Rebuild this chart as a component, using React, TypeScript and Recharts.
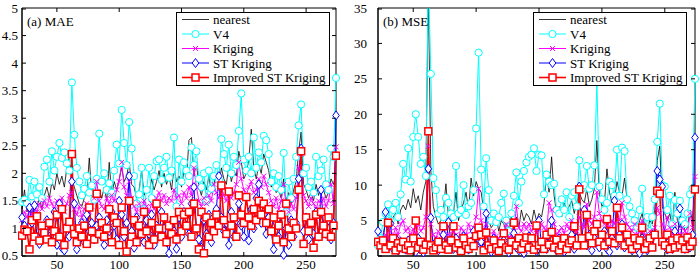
import React from 'react';
import { LineChart, Line, XAxis, YAxis, Legend, ReferenceArea } from 'recharts';

// sample index: 22, 24, ... 274
const X_START = 22;
const X_STEP = 2;

// ---- (a) MAE ----
const maeNearest = [
  1.35, 1.70, 1.30, 1.45, 1.25, 1.50, 1.40, 1.55, 1.35, 1.60,
  1.75, 1.55, 1.85, 1.70, 2.00, 1.80, 1.95, 1.75, 2.10, 2.30,
  1.90, 1.75, 1.60, 1.45, 1.40, 1.55, 1.65, 2.28, 1.60, 1.50,
  1.45, 1.70, 1.55, 1.75, 1.50, 2.20, 1.60, 1.85, 1.70, 1.90,
  2.10, 1.85, 1.95, 2.20, 1.80, 1.75, 1.55, 1.70, 2.05, 1.60,
  1.75, 1.65, 1.90, 1.70, 1.85, 2.05, 1.75, 2.00, 1.80, 1.95,
  1.70, 2.10, 1.85, 1.95, 1.75, 2.05, 1.90, 2.60, 2.65, 1.95,
  2.20, 1.75, 1.60, 1.85, 1.70, 1.95, 1.65, 1.80, 2.00, 1.75,
  2.10, 1.90, 1.80, 2.15, 1.85, 2.05, 1.95, 2.40, 2.20, 1.90,
  2.00, 2.25, 2.80, 2.10, 1.90, 2.15, 2.00, 2.35, 2.20, 2.05,
  1.75, 1.85, 1.65, 1.70, 1.55, 1.90, 1.50, 1.65, 1.45, 1.70,
  1.85, 2.40, 2.75, 1.80, 1.70, 1.55, 1.65, 1.50, 1.80, 1.60,
  1.75, 1.70, 1.55, 1.65, 1.90, 1.80, 2.00,
];
const maeV4 = [
  1.48, 1.52, 1.46, 1.88, 1.58, 1.85, 1.62, 1.75, 1.55, 2.12,
  2.25, 1.85, 2.40, 2.05, 2.30, 2.55, 2.28, 2.38, 2.18, 2.05,
  3.65, 2.70, 2.10, 1.85, 1.60, 1.72, 1.95, 1.65, 1.78, 1.52,
  1.90, 2.72, 1.85, 2.00, 1.70, 1.82, 1.65, 2.05, 2.52, 2.18,
  3.15, 2.55, 2.15, 2.93, 2.45, 1.95, 1.45, 1.62, 2.10, 1.35,
  1.70, 2.10, 1.55, 1.95, 2.22, 2.25, 1.88, 2.10, 2.30, 1.92,
  2.05, 2.65, 1.40, 2.25, 1.85, 2.20, 2.05, 1.95, 2.47, 2.15,
  2.40, 1.90, 1.75, 2.00, 1.50, 2.05, 1.72, 1.95, 2.15, 1.88,
  2.62, 2.35, 2.10, 2.52, 2.00, 2.30, 2.15, 2.77, 3.45, 2.25,
  2.05, 2.30, 2.00, 2.65, 2.10, 2.38, 2.20, 2.68, 2.60, 2.35,
  1.85, 2.00, 1.75, 1.95, 1.70, 2.37, 1.30, 1.85, 1.55, 1.90,
  2.30, 2.87, 3.25, 2.00, 2.10, 1.75, 1.85, 1.65, 2.30, 1.95,
  2.05, 2.25, 1.80, 1.70, 2.45, 2.30, 3.73,
];
const maeKriging = [
  1.15, 1.30, 1.20, 1.35, 1.25, 1.40, 1.30, 1.45, 1.35, 1.50,
  1.40, 1.55, 1.45, 1.35, 1.50, 1.40, 1.55, 1.30, 1.45, 1.60,
  1.65, 1.35, 1.25, 1.40, 1.20, 1.35, 1.45, 1.30, 1.40, 1.55,
  1.85, 1.50, 1.40, 1.35, 1.55, 1.45, 1.60, 1.50, 1.70, 1.85,
  2.20, 1.75, 1.60, 1.85, 1.55, 1.40, 1.30, 1.45, 1.35, 1.50,
  1.40, 1.30, 1.45, 1.35, 1.55, 1.65, 1.50, 1.60, 1.45, 1.55,
  1.50, 1.70, 1.55, 1.60, 1.45, 1.65, 1.55, 1.75, 1.60, 2.10,
  1.75, 1.50, 1.40, 1.55, 1.45, 1.60, 1.50, 1.80, 1.65, 1.55,
  1.75, 1.60, 1.50, 1.70, 1.55, 1.65, 1.80, 2.20, 1.90, 1.70,
  1.60, 1.75, 1.85, 1.65, 1.70, 1.90, 1.75, 1.95, 1.80, 1.65,
  1.50, 1.40, 1.55, 1.35, 1.50, 1.80, 1.40, 1.30, 1.45, 1.35,
  1.55, 2.10, 2.35, 1.60, 1.50, 1.40, 1.55, 1.45, 1.35, 1.50,
  1.45, 1.55, 1.40, 1.50, 1.80, 1.45, 2.48,
];
const maeST = [
  1.20, 1.05, 0.95, 1.38, 1.10, 1.42, 0.85, 0.72, 1.00, 0.90,
  1.15, 0.80, 0.95, 1.30, 0.70, 1.45, 0.65, 0.60, 1.05, 0.85,
  1.85, 1.45, 0.62, 0.90, 1.10, 0.75, 1.25, 0.95, 1.10, 0.80,
  1.05, 1.20, 0.85, 0.70, 1.15, 0.95, 1.30, 1.05, 0.80, 1.50,
  1.25, 0.85, 1.10, 1.95, 0.95, 0.65, 1.20, 0.80, 1.05, 0.75,
  1.15, 0.90, 1.25, 0.70, 1.05, 0.85, 1.30, 1.00, 0.75, 0.55,
  1.10, 0.95, 0.63, 1.20, 0.85, 1.30, 1.05, 0.90, 1.45, 1.75,
  1.00, 0.80, 0.65, 1.15, 0.90, 1.25, 0.75, 1.05, 1.35, 1.95,
  1.20, 0.95, 1.10, 0.70, 1.30, 0.85, 1.15, 1.45, 1.05, 0.85,
  1.20, 0.78, 1.35, 1.00, 1.55, 1.80, 1.10, 1.25, 0.90, 1.20,
  0.95, 0.62, 1.10, 0.85, 1.25, 0.52, 1.00, 0.70, 1.15, 0.85,
  1.10, 1.90, 2.45, 0.95, 1.20, 0.80, 1.05, 0.90, 1.30, 0.85,
  1.70, 1.05, 0.90, 1.15, 0.80, 1.10, 3.05,
];
const maeImproved = [
  0.87, 0.98, 0.95, 0.62, 1.15, 0.85, 1.22, 0.78, 1.05, 0.92,
  0.80, 1.10, 0.75, 0.95, 1.25, 0.85, 1.35, 0.70, 1.00, 1.12,
  2.35, 0.90, 0.75, 1.00, 0.85, 1.05, 0.72, 1.38, 0.95, 0.80,
  1.63, 0.90, 1.10, 0.85, 1.00, 1.35, 0.75, 1.20, 1.10, 0.70,
  1.38, 0.95, 0.58, 1.50, 0.85, 1.15, 0.75, 1.05, 0.90, 1.30,
  0.95, 0.70, 1.10, 0.80, 1.45, 1.00, 0.85, 1.20, 0.75, 1.05,
  0.90, 1.15, 0.80, 1.30, 0.95, 1.25, 1.05, 1.30, 0.85, 1.45,
  1.00, 0.62, 1.30, 0.55, 1.20, 0.85, 1.10, 0.95, 1.25, 1.05,
  1.78, 1.15, 0.90, 1.67, 1.05, 1.20, 0.85, 1.60, 1.25, 1.10,
  1.57, 1.20, 1.05, 1.35, 1.15, 1.50, 1.25, 1.45, 1.10, 1.35,
  0.95, 1.20, 0.80, 1.05, 1.25, 0.75, 1.45, 1.00, 0.85, 1.10,
  1.00, 1.70, 2.40, 0.72, 1.20, 0.95, 1.10, 0.65, 1.25, 0.85,
  1.30, 1.05, 0.90, 1.20, 0.85, 1.05, 2.32,
];

// ---- (b) MSE ----
const mseNearest = [
  1.5, 2.0, 3.0, 4.5, 5.0, 4.0, 5.5, 6.0, 4.5, 6.5,
  7.2, 6.5, 8.0, 6.8, 9.5, 7.5, 8.5, 6.5, 9.0, 10.5,
  38.0, 12.0, 7.0, 5.5, 4.5, 5.0, 6.5, 10.2, 5.5, 4.5,
  6.0, 9.0, 5.0, 6.5, 7.5, 9.0, 6.5, 11.0, 8.5, 10.5,
  9.5, 9.0, 6.5, 7.0, 5.0, 4.0, 4.5, 5.5, 3.5, 5.0,
  4.5, 3.5, 4.0, 5.5, 4.5, 5.5, 4.0, 6.5, 5.0, 6.0,
  5.5, 4.5, 6.5, 5.0, 6.0, 5.5, 7.5, 11.5, 9.0, 14.0,
  8.5, 6.0, 7.0, 5.5, 7.5, 6.5, 7.0, 7.8, 6.0, 7.5,
  9.0, 8.0, 7.5, 9.5, 7.0, 8.0, 9.5, 16.3, 8.5, 7.0,
  7.5, 12.3, 9.0, 7.5, 8.0, 10.5, 9.0, 8.5, 11.0, 8.0,
  6.5, 5.5, 4.5, 3.5, 5.0, 6.0, 4.0, 3.5, 5.0, 4.5,
  6.5, 13.5, 15.5, 7.0, 6.0, 5.0, 6.0, 4.0, 9.0, 5.0,
  4.0, 5.5, 3.5, 4.0, 6.5, 5.0, 9.0,
];
const mseV4 = [
  1.5, 2.5, 4.8, 6.0, 7.3, 5.0, 6.5, 7.5, 5.5, 8.7,
  13.0, 10.8, 15.2, 10.5, 16.8, 20.0, 16.8, 13.0, 14.0, 11.3,
  40.0, 25.7, 11.0, 9.3, 6.0, 6.5, 5.5, 8.2, 7.5, 6.0,
  5.5, 12.7, 6.0, 6.5, 10.0, 5.8, 7.0, 7.5, 9.3, 18.0,
  28.7, 12.2, 7.0, 13.8, 9.3, 5.0, 6.0, 4.8, 5.5, 7.5,
  8.8, 5.0, 3.5, 6.0, 8.5, 11.8, 7.5, 10.5, 12.0, 13.2,
  14.0, 14.3, 15.2, 12.0, 14.3, 14.2, 8.7, 11.5, 10.5, 10.0,
  10.2, 6.5, 6.0, 8.0, 6.5, 9.0, 5.5, 8.5, 9.0, 7.0,
  13.5, 9.5, 10.0, 12.7, 9.5, 10.0, 12.8, 24.5, 9.8, 8.0,
  6.5, 7.5, 10.5, 10.0, 8.5, 15.0, 8.5, 15.3, 14.8, 8.0,
  7.0, 6.0, 5.0, 4.0, 6.5, 9.5, 4.0, 5.5, 3.5, 5.5,
  8.0, 16.1, 21.5, 10.0, 9.8, 6.5, 8.5, 4.5, 7.9, 6.0,
  7.8, 5.0, 4.5, 6.0, 8.7, 9.5, 25.0,
];
const mseKriging = [
  1.8, 2.5, 2.0, 3.0, 2.5, 3.5, 2.8, 4.0, 3.0, 4.5,
  5.0, 3.5, 4.0, 3.0, 3.8, 3.2, 4.5, 3.5, 4.0, 5.5,
  15.5, 4.5, 3.0, 2.5, 3.5, 2.8, 3.2, 4.5, 3.0, 2.5,
  3.5, 3.0, 2.5, 4.0, 3.5, 3.0, 4.5, 3.5, 4.0, 5.5,
  9.5, 5.0, 3.5, 4.5, 3.0, 2.5, 3.5, 2.8, 2.5, 3.0,
  3.5, 4.5, 2.5, 3.0, 3.5, 7.0, 4.0, 3.5, 4.5, 3.8,
  4.5, 3.5, 4.0, 3.2, 3.8, 4.5, 4.0, 3.5, 7.5, 6.5,
  4.5, 3.0, 3.5, 4.0, 3.2, 4.5, 3.8, 5.0, 4.0, 3.5,
  5.5, 4.5, 4.0, 7.3, 5.0, 4.5, 5.5, 9.0, 6.0, 5.0,
  4.5, 5.5, 4.0, 5.0, 4.5, 6.5, 5.0, 7.5, 5.5, 4.5,
  4.0, 3.5, 4.5, 3.0, 3.5, 5.0, 3.0, 2.5, 3.5, 3.0,
  4.0, 6.8, 6.0, 4.5, 3.5, 5.5, 4.0, 3.0, 4.5, 3.5,
  3.0, 4.0, 3.5, 3.0, 6.0, 4.0, 11.2,
];
const mseST = [
  3.5, 2.0, 1.5, 6.2, 1.2, 4.6, 1.0, 2.5, 0.8, 2.0,
  1.5, 0.9, 2.2, 1.0, 1.8, 0.6, 2.5, 1.2, 0.5, 1.5,
  12.3, 5.4, 1.0, 2.0, 0.8, 1.5, 3.0, 1.2, 4.8, 2.0,
  1.0, 2.5, 0.8, 1.5, 2.8, 1.2, 0.9, 2.0, 3.5, 1.5,
  3.8, 2.0, 1.0, 6.0, 1.5, 0.6, 2.5, 1.2, 0.9, 1.8,
  2.2, 1.0, 0.5, 1.8, 3.2, 1.2, 0.8, 2.0, 0.4, 1.5,
  2.8, 1.0, 1.8, 0.7, 5.0, 1.5, 2.2, 1.0, 3.0, 5.0,
  1.5, 0.8, 2.5, 1.2, 0.6, 2.0, 1.5, 3.0, 1.0, 2.5,
  9.8, 2.0, 6.5, 1.5, 3.0, 0.8, 2.5, 4.5, 1.2, 2.0,
  3.5, 1.0, 0.6, 2.5, 7.8, 1.5, 3.0, 4.5, 1.2, 2.5,
  1.5, 0.8, 2.0, 1.0, 0.4, 2.5, 1.2, 0.8, 1.8, 3.0,
  3.0, 12.0, 10.8, 9.8, 1.5, 0.9, 2.2, 1.0, 3.5, 1.5,
  6.7, 2.0, 1.0, 2.5, 1.2, 3.0, 16.7,
];
const mseImproved = [
  2.0, 1.5, 2.2, 1.0, 4.7, 1.5, 2.5, 0.8, 1.8, 1.2,
  2.0, 1.0, 1.5, 0.8, 2.5, 5.0, 1.2, 2.0, 0.9, 1.6,
  17.6, 1.5, 0.8, 1.2, 2.0, 1.0, 4.2, 1.5, 0.9, 2.2,
  4.2, 1.2, 1.8, 0.7, 2.5, 1.5, 1.0, 2.0, 1.4, 2.8,
  4.0, 3.0, 0.8, 3.3, 1.5, 1.0, 2.2, 1.2, 0.7, 1.8,
  3.2, 1.2, 0.9, 2.0, 4.7, 1.5, 2.5, 1.0, 1.8, 2.6,
  1.2, 2.5, 0.9, 4.3, 1.5, 2.0, 1.0, 3.0, 1.6, 3.4,
  1.2, 2.3, 0.8, 1.5, 2.5, 1.0, 1.8, 2.2, 4.2, 1.5,
  9.4, 2.5, 1.5, 5.8, 2.8, 1.8, 3.5, 4.5, 2.0, 3.0,
  1.5, 5.2, 2.0, 3.5, 1.8, 6.8, 2.5, 4.0, 1.5, 3.0,
  2.0, 1.0, 2.5, 1.5, 2.2, 4.0, 1.0, 1.8, 2.5, 1.2,
  3.0, 9.2, 8.8, 2.0, 1.5, 3.0, 1.0, 2.2, 1.2, 2.5,
  1.5, 2.2, 1.0, 2.6, 1.4, 2.0, 9.4,
];

const xTicks = [50, 100, 150, 200, 250];
const maeTicks = [0.5, 1, 1.5, 2, 2.5, 3, 3.5, 4, 4.5, 5];
const mseTicks = [0, 5, 10, 15, 20, 25, 30, 35];

const SERIES = [
  { key: 'nearest', name: 'nearest', color: '#000000', width: 0.8, marker: 'none' },
  { key: 'v4', name: 'V4', color: '#00ffff', width: 1, marker: 'circle' },
  { key: 'kriging', name: 'Kriging', color: '#ff00ff', width: 1, marker: 'cross' },
  { key: 'st', name: 'ST Kriging', color: '#0000ff', width: 1, marker: 'diamond' },
  { key: 'improved', name: 'Improved ST Kriging', color: '#ff0000', width: 1.6, marker: 'square' },
];

const FONT = '"Liberation Serif", "Times New Roman", serif';

const buildRows = (n: number[], v: number[], k: number[], s: number[], im: number[]) =>
  n.map((val, i) => ({
    x: X_START + i * X_STEP,
    nearest: val,
    v4: v[i],
    kriging: k[i],
    st: s[i],
    improved: im[i],
  }));

const maeData = buildRows(maeNearest, maeV4, maeKriging, maeST, maeImproved);
const mseData = buildRows(mseNearest, mseV4, mseKriging, mseST, mseImproved);

function drawMarker(marker: string, color: string, cx: number, cy: number, key?: string) {
  if (cx == null || cy == null) return <g key={key} />;
  switch (marker) {
    case 'circle':
      return <circle key={key} cx={cx} cy={cy} r={3.6} fill="#fff" stroke={color} strokeWidth={1} />;
    case 'cross':
      return (
        <path
          key={key}
          d={`M${cx - 2.5},${cy - 2.5}L${cx + 2.5},${cy + 2.5}M${cx - 2.5},${cy + 2.5}L${cx + 2.5},${cy - 2.5}`}
          stroke={color}
          strokeWidth={1}
          fill="none"
        />
      );
    case 'diamond':
      return (
        <path
          key={key}
          d={`M${cx},${cy - 4.5}L${cx + 3.3},${cy}L${cx},${cy + 4.5}L${cx - 3.3},${cy}Z`}
          fill="#fff"
          stroke={color}
          strokeWidth={1}
        />
      );
    case 'square':
      return <rect key={key} x={cx - 3.5} y={cy - 3.5} width={7} height={7} fill="#fff" stroke={color} strokeWidth={1.5} />;
    default:
      return <g key={key} />;
  }
}

const Marker = (p: any) => drawMarker(p.kind, p.color, p.cx, p.cy);

// element dot with clipDot off, so markers on the frame aren't cut in half
const markerDot = (kind: string, color: string): any => ({
  ...(<Marker kind={kind} color={color} />),
  clipDot: false,
});

const LegendBox = () => (
  <svg width={154} height={74} style={{ display: 'block' }}>
    <rect x={0.5} y={0.5} width={153} height={73} fill="#fff" stroke="#000" strokeWidth={1} />
    {SERIES.map((s, i) => {
      const cy = 7.5 + i * 14.5;
      return (
        <g key={s.key}>
          <line x1={6} x2={33} y1={cy} y2={cy} stroke={s.color} strokeWidth={s.width} />
          {drawMarker(s.marker, s.color, 19.5, cy)}
          <text x={37} y={cy} dy="0.35em" fontSize={13} fontFamily={FONT} fill="#000">
            {s.name}
          </text>
        </g>
      );
    })}
  </svg>
);

interface PanelProps {
  data: any[];
  title: string;
  yDomain: [number, number];
  yTicks: number[];
  yAxisWidth: number;
  yTickMargin: number;
  marginRight: number;
  legendLeft: number;
}

const W = 350;
const H = 273;
const TOP = 8;
const XAXIS_H = 17;

const Panel: React.FC<PanelProps> = ({ data, title, yDomain, yTicks, yAxisWidth, yTickMargin, marginRight, legendLeft }) => {
  const plotLeft = yAxisWidth;
  const plotRight = W - marginRight;
  const plotBottom = H - XAXIS_H;

  const xTick = (p: any) => (
    <g key={`xt-${p.payload.value}`}>
      <line x1={p.x} x2={p.x} y1={plotBottom} y2={plotBottom - 4} stroke="#000" />
      <line x1={p.x} x2={p.x} y1={TOP} y2={TOP + 4} stroke="#000" />
      <text x={p.x} y={p.y} dy="0.71em" textAnchor="middle" fontSize={13} fontFamily={FONT} fill="#000">
        {p.payload.value}
      </text>
    </g>
  );
  const yTick = (p: any) => (
    <g key={`yt-${p.payload.value}`}>
      <line x1={plotLeft} x2={plotLeft + 4} y1={p.y} y2={p.y} stroke="#000" />
      <line x1={plotRight - 4} x2={plotRight} y1={p.y} y2={p.y} stroke="#000" />
      <text x={p.x} y={p.y} dy="0.34em" textAnchor="end" fontSize={13} fontFamily={FONT} fill="#000">
        {p.payload.value}
      </text>
    </g>
  );

  return (
    <div style={{ position: 'relative', width: W, height: H }}>
      <LineChart width={W} height={H} data={data} margin={{ top: TOP, right: marginRight, left: 0, bottom: 0 }}>
        <XAxis
          dataKey="x"
          type="number"
          domain={[22, 274]}
          ticks={xTicks}
          height={XAXIS_H}
          tickSize={0}
          tickMargin={4}
          tickLine={false}
          axisLine={{ stroke: '#000' }}
          tick={xTick}
        />
        <YAxis
          type="number"
          domain={yDomain}
          ticks={yTicks}
          width={yAxisWidth}
          tickSize={0}
          tickMargin={yTickMargin}
          tickLine={false}
          axisLine={{ stroke: '#000' }}
          tick={yTick}
          allowDataOverflow
        />
        {SERIES.map((s) => (
          <Line
            key={s.key}
            dataKey={s.key}
            name={s.name}
            type="linear"
            stroke={s.color}
            strokeWidth={s.width}
            isAnimationActive={false}
            activeDot={false}
            dot={s.marker === 'none' ? false : markerDot(s.marker, s.color)}
          />
        ))}
        <ReferenceArea x1={22} x2={274} y1={yDomain[0]} y2={yDomain[1]} fill="none" stroke="#000" strokeWidth={1} />
        <Legend
          layout="horizontal"
          verticalAlign="middle"
          align="center"
          content={() => <LegendBox />}
          wrapperStyle={{ left: legendLeft, top: 12, width: 154, height: 74 }}
        />
      </LineChart>
      <div
        style={{
          position: 'absolute',
          left: plotLeft + 5,
          top: 14,
          fontFamily: FONT,
          fontSize: 13,
          lineHeight: '15px',
          color: '#000',
          pointerEvents: 'none',
        }}
      >
        {title}
      </div>
    </div>
  );
};

export default function App() {
  return (
    <div style={{ position: 'absolute', left: 0, top: 0, width: 700, height: 273, background: '#fff', display: 'flex' }}>
      <Panel
        data={maeData}
        title="(a) MAE"
        yDomain={[0.5, 5]}
        yTicks={maeTicks}
        yAxisWidth={22}
        yTickMargin={4}
        marginRight={14}
        legendLeft={176}
      />
      <Panel
        data={mseData}
        title="(b) MSE"
        yDomain={[0, 35]}
        yTicks={mseTicks}
        yAxisWidth={28}
        yTickMargin={11}
        marginRight={5}
        legendLeft={183}
      />
    </div>
  );
}
